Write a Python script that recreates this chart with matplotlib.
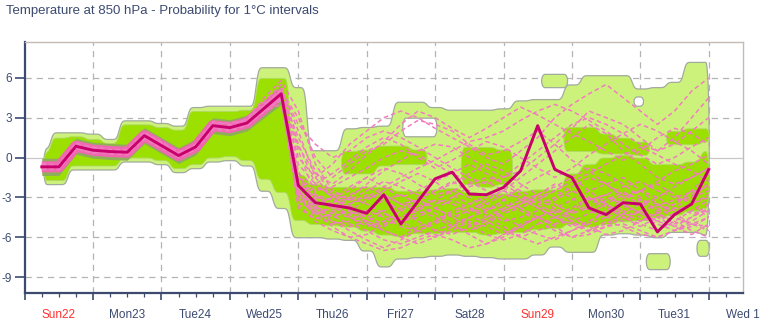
import numpy as np
import matplotlib
matplotlib.use("Agg")
import matplotlib.pyplot as plt

plt.rcParams['font.family'] = ['Liberation Sans', 'DejaVu Sans']

# 6-hourly steps, in days from Sun22 00 UTC
hours = np.arange(6, 241, 6)
days = hours / 24.0

day_labels = ['Sun22', 'Mon23', 'Tue24', 'Wed25', 'Thu26', 'Fri27',
              'Sat28', 'Sun29', 'Mon30', 'Tue31', 'Wed 1']
red_days = ['Sun22', 'Sun29']

# control forecast
control = [-0.7, -0.7, 0.85, 0.55, 0.45, 0.4, 1.65, 0.9, 0.15, 0.8,
           2.4, 2.25, 2.6, 3.7, 4.8, -2.1, -3.4, -3.6, -3.8, -4.2,
           -2.8, -5.0, -3.3, -1.6, -1.1, -2.75, -2.8, -2.25, -1.0, 2.4,
           -0.9, -1.5, -3.8, -4.3, -3.4, -3.5, -5.6, -4.3, -3.5, -0.9]

# outer probability area (light green)
outer_hi = [0.7, 1.9, 1.9, 1.8, 1.4, 2.8, 2.8, 2.6, 2.4, 3.8,
            3.9, 3.9, 3.9, 6.8, 6.8, 5.3, 0.55, 0.55, 2.2, 2.3,
            2.4, 4.2, 4.2, 3.8, 3.6, 3.6, 3.6, 3.7, 4.3, 4.4,
            4.4, 5.5, 6.2, 6.2, 6.2, 5.2, 5.3, 5.7, 7.2, 7.2]
outer_lo = [-2.0, -2.0, -0.9, -0.9, -0.9, -0.3, -0.3, -0.5, -1.1, -0.8,
            -0.3, -0.2, -0.6, -2.5, -3.8, -6.0, -6.0, -6.1, -6.2, -7.0,
            -8.2, -7.6, -7.5, -7.4, -7.3, -7.4, -7.5, -7.6, -7.6, -7.3,
            -6.7, -7.1, -7.1, -5.8, -5.7, -5.8, -6.0, -5.6, -5.6, -5.8]

# detached light green islands: (start day, end day, lo, hi)
islands = [(7.55, 7.93, 5.3, 6.3),
           (9.08, 9.43, -8.4, -7.2),
           (9.82, 10.0, -7.4, -6.2)]
# empty holes inside the light green area
holes = [(5.52, 6.02, 1.6, 3.0),
         (8.9, 9.04, 3.9, 4.6)]

nan = np.nan
# bright green (higher probability) main band
mid_hi = [0.4, 1.5, 1.6, 1.4, 1.1, 2.5, 2.5, 2.3, 2.1, 3.5,
          3.5, 3.5, 3.6, 6.0, 6.0, -1.3, -2.0, -2.2, -2.2, -2.2,
          -2.2, -2.5, -2.5, -2.4, -2.3, -2.6, -2.7, -2.7, -2.5, -2.4,
          -2.4, -1.2, -0.5, 0.0, 0.2, 0.0, -0.5, -0.5, -0.3, 0.5]
mid_lo = [-1.7, -1.7, -0.6, -0.6, -0.6, 0.0, 0.0, -0.2, -0.8, -0.5,
          0.0, 0.1, -0.2, -1.6, -2.6, -4.7, -5.0, -5.1, -5.2, -5.5,
          -5.8, -5.9, -5.7, -5.7, -5.6, -5.6, -5.8, -5.7, -5.6, -5.4,
          -5.3, -5.0, -5.2, -5.0, -4.8, -4.7, -4.5, -4.3, -4.0, -3.8]
# second bright green cluster
up_hi = [nan] * 18 + [0.5, 0.6, 0.9, 0.9, 0.6, nan, nan, 0.8, 0.8, 0.6,
                      nan, nan, nan, 2.3, 2.3, 1.8, 1.5, 1.2, nan, 2.0, 2.2, 2.2]
up_lo = [nan] * 18 + [-1.2, -1.2, -0.6, -0.5, -0.5, nan, nan, -2.0, -2.2, -2.0,
                      nan, nan, nan, 0.5, 0.5, 0.3, 0.3, 0.2, nan, 1.0, 1.0, 1.2]

# darker core of the first days
core_hi = [-0.05, -0.05, 1.45, 1.15, 1.05, 1.0, 2.25, 1.5, 0.75, 1.4, 3.0, 2.85, 3.2, 4.3, 5.4]
core_lo = [-1.35, -1.35, 0.25, -0.05, -0.15, -0.2, 1.05, 0.3, -0.45, 0.2, 1.8, 1.65, 2.0, 3.0, 4.0]

# some ensemble members
members = [
    [-0.9, -0.8, 0.6, 0.4, 0.3, 0.2, 1.4, 0.7, 0.0, 0.6, 2.1, 2.0, 2.4, 3.9, 5.2, 2.0, -1.5, -3.0, -4.0, -4.5,
     -5.0, -4.8, -4.2, -3.8, -4.5, -5.2, -4.8, -4.0, -3.5, -3.0, -2.5, -3.0, -4.0, -4.5, -4.8, -4.0, -3.6, -3.2, -3.0, -2.5],
    [-0.5, -0.6, 1.0, 0.8, 0.6, 0.6, 1.9, 1.1, 0.4, 1.0, 2.7, 2.5, 2.9, 4.5, 5.8, 3.5, -0.5, -2.5, -3.2, -3.0,
     -2.8, -3.5, -4.0, -4.5, -5.2, -5.5, -5.0, -4.2, -3.8, -4.5, -5.0, -4.8, -4.2, -3.5, -2.8, -2.5, -3.0, -3.8, -4.2, -4.0],
    [-0.8, -0.9, 0.7, 0.3, 0.5, 0.5, 1.5, 0.8, 0.3, 0.9, 2.2, 2.4, 2.5, 3.5, 4.0, -1.0, -3.8, -4.2, -4.5, -5.0,
     -5.5, -6.0, -5.2, -4.8, -4.0, -3.5, -3.0, -2.5, -1.5, -0.5, 0.5, 1.5, 2.5, 1.8, 0.5, -0.5, -1.5, -2.0, -1.5, -0.8],
    [-0.6, -0.5, 0.9, 0.7, 0.4, 0.3, 1.7, 1.0, 0.2, 0.7, 2.5, 2.2, 2.7, 3.8, 4.9, -2.5, -3.6, -3.4, -3.0, -2.0,
     -1.0, -0.2, 0.5, 1.0, 0.8, 0.0, -0.8, -1.5, -1.0, 0.0, 1.0, 2.2, 3.5, 3.0, 2.5, 1.5, 0.5, 1.0, 2.0, 3.0],
    [-0.7, -0.8, 0.8, 0.5, 0.4, 0.5, 1.6, 0.9, 0.1, 0.8, 2.3, 2.1, 2.5, 3.6, 4.6, -2.8, -4.5, -5.0, -4.8, -4.0,
     -3.2, -2.8, -3.5, -4.2, -5.0, -5.8, -6.5, -6.0, -5.2, -4.5, -4.0, -4.8, -5.5, -5.0, -4.2, -3.5, -3.8, -4.5, -5.0, -5.2],
    [-0.4, -0.6, 1.1, 0.7, 0.5, 0.4, 1.8, 1.2, 0.3, 0.9, 2.6, 2.6, 2.8, 4.2, 5.5, 1.0, -2.0, -3.0, -2.5, -1.5,
     -0.8, -1.2, -2.0, -2.8, -2.5, -2.0, -1.5, -1.8, -2.5, -3.2, -3.8, -3.2, -2.5, -2.0, -1.5, -2.5, -3.5, -4.0, -3.5, -2.8],
    [-0.9, -0.7, 0.7, 0.5, 0.3, 0.3, 1.5, 0.8, 0.2, 0.7, 2.3, 2.3, 2.5, 3.4, 4.4, -3.0, -4.0, -4.4, -5.0, -5.5,
     -6.2, -6.5, -6.0, -5.5, -5.0, -4.5, -4.0, -3.5, -4.0, -4.8, -5.5, -6.0, -5.5, -4.8, -5.2, -5.8, -6.0, -5.5, -4.8, -4.0],
    [-0.6, -0.7, 0.8, 0.6, 0.5, 0.4, 1.6, 0.9, 0.2, 0.8, 2.4, 2.2, 2.6, 3.8, 4.7, -1.8, -3.0, -3.2, -3.5, -3.0,
     -2.2, -1.5, -0.8, -0.2, 0.5, 1.2, 1.5, 2.0, 2.8, 3.5, 4.0, 3.5, 2.8, 2.0, 1.0, 0.2, -0.5, 0.0, 0.8, 1.5],
    [-0.8, -0.6, 0.9, 0.6, 0.4, 0.5, 1.7, 1.0, 0.1, 0.8, 2.4, 2.4, 2.6, 3.9, 5.0, 0.5, -2.8, -3.8, -4.2, -4.0,
     -4.5, -5.2, -5.5, -5.0, -4.2, -3.8, -4.5, -5.2, -6.0, -6.5, -6.0, -5.5, -5.0, -4.5, -4.0, -4.5, -5.0, -5.5, -5.2, -4.5],
    [-0.7, -0.7, 0.8, 0.5, 0.5, 0.3, 1.6, 0.9, 0.2, 0.8, 2.3, 2.3, 2.7, 3.6, 4.5, -2.2, -3.2, -3.8, -3.6, -4.5,
     -4.0, -3.8, -3.0, -2.5, -2.0, -1.2, -0.5, -1.0, -2.0, -2.8, -2.2, -1.5, -0.8, -1.2, -2.0, -3.0, -4.2, -5.0, -4.5, -3.8],
    [-0.6, -0.9, 0.7, 0.4, 0.4, 0.4, 1.5, 0.8, 0.2, 0.7, 2.2, 2.1, 2.4, 3.5, 4.3, -2.6, -3.8, -4.0, -4.3, -4.8,
     -5.2, -4.5, -3.8, -3.2, -3.5, -4.2, -3.5, -2.8, -3.0, -3.8, -4.5, -5.2, -4.8, -4.0, -3.2, -2.5, -2.0, -2.8, -3.5, -4.5],
    [-0.8, -0.8, 0.9, 0.6, 0.4, 0.4, 1.7, 0.9, 0.3, 0.9, 2.5, 2.3, 2.6, 4.0, 5.0, 3.0, 0.0, -1.5, -0.5, 0.5,
     1.0, 2.0, 2.8, 2.5, 2.0, 1.0, 0.2, 0.5, 1.2, 2.0, 1.0, -0.2, -1.0, -2.0, -3.0, -2.5, -1.8, -1.0, -0.5, 0.2],
    [-0.7, -0.6, 0.8, 0.6, 0.5, 0.4, 1.6, 1.0, 0.2, 0.8, 2.4, 2.3, 2.6, 3.7, 4.6, -3.5, -4.8, -5.5, -6.0, -5.8,
     -5.0, -4.5, -4.0, -3.2, -2.5, -3.0, -3.8, -4.5, -5.2, -5.8, -6.2, -5.5, -4.8, -4.2, -3.8, -3.2, -3.5, -4.2, -5.0, -5.5],
    [-0.8, -0.7, 0.8, 0.5, 0.4, 0.4, 1.6, 0.9, 0.2, 0.8, 2.3, 2.2, 2.5, 3.6, 4.7, -1.5, -2.5, -2.2, -1.5, -0.8,
     0.0, 0.5, 0.2, -0.5, -1.2, -1.8, -2.5, -3.2, -3.8, -3.2, -2.5, -1.8, -1.2, -0.5, 0.2, 0.8, 0.2, -0.5, -1.0, -1.8],
    [-0.6, -0.8, 0.9, 0.6, 0.4, 0.5, 1.7, 0.9, 0.2, 0.9, 2.4, 2.3, 2.6, 3.8, 4.9, 1.5, -1.0, -2.8, -4.0, -4.8,
     -5.5, -6.0, -6.5, -6.0, -5.2, -4.5, -4.8, -5.5, -6.0, -5.5, -5.0, -4.2, -3.5, -3.0, -3.5, -4.2, -4.8, -4.2, -3.5, -3.0],
    [-0.7, -0.8, 0.8, 0.5, 0.5, 0.4, 1.6, 0.8, 0.1, 0.8, 2.3, 2.2, 2.6, 3.7, 4.8, -2.0, -3.0, -3.5, -4.5, -5.2,
     -4.8, -4.0, -3.2, -3.8, -4.5, -4.0, -3.2, -2.5, -2.8, -3.5, -4.2, -3.8, -3.0, -3.5, -4.5, -5.2, -4.5, -3.8, -3.0, -2.0],
    [-0.8, -0.6, 0.9, 0.6, 0.5, 0.5, 1.7, 1.0, 0.2, 0.8, 2.5, 2.3, 2.7, 3.9, 5.1, 2.5, 1.0, 0.0, 0.5, 1.5,
     2.0, 1.5, 0.8, 0.0, -0.8, -1.5, -2.0, -1.5, -0.5, 0.5, 1.5, 2.5, 3.0, 2.5, 1.8, 1.0, 0.5, 1.5, 3.0, 4.5],
    [-0.7, -0.7, 0.7, 0.5, 0.4, 0.3, 1.5, 0.8, 0.1, 0.7, 2.3, 2.2, 2.5, 3.5, 4.5, -2.4, -3.6, -4.8, -5.5, -6.2,
     -6.8, -6.2, -5.5, -4.8, -4.2, -5.0, -5.8, -6.2, -5.8, -5.0, -4.5, -5.0, -5.6, -5.2, -4.5, -4.0, -4.5, -5.2, -5.8, -5.0],
    [-0.6, -0.7, 0.9, 0.5, 0.4, 0.4, 1.6, 0.9, 0.2, 0.8, 2.4, 2.3, 2.6, 3.7, 4.8, -1.2, -2.2, -2.8, -3.2, -2.5,
     -1.8, -2.2, -2.8, -3.5, -3.0, -2.2, -1.8, -2.5, -3.2, -2.8, -2.0, -2.5, -3.2, -2.8, -2.2, -1.8, -2.5, -3.0, -2.6, -2.2],
    [-0.8, -0.8, 0.8, 0.6, 0.4, 0.4, 1.7, 0.9, 0.2, 0.8, 2.4, 2.2, 2.5, 3.7, 4.6, -3.2, -4.2, -3.8, -3.0, -3.5,
     -4.2, -4.8, -4.5, -3.8, -3.2, -3.8, -4.2, -4.8, -4.5, -4.0, -3.2, -2.5, -3.0, -3.8, -4.5, -5.0, -5.5, -4.8, -4.0, -3.2],
    [-0.7, -0.7, 0.8, 0.5, 0.4, 0.4, 1.6, 0.9, 0.1, 0.8, 2.4, 2.3, 2.6, 3.7, 4.7, 0.0, -1.5, -0.5, 1.0, 2.0,
     3.0, 3.5, 3.0, 2.2, 1.5, 0.8, 0.0, -0.5, 0.5, 1.5, 3.0, 4.0, 4.8, 5.5, 4.5, 3.5, 2.5, 3.5, 5.0, 6.0],
    [-0.7, -0.8, 0.8, 0.5, 0.4, 0.4, 1.6, 0.9, 0.2, 0.8, 2.4, 2.2, 2.6, 3.6, 4.4, -3.8, -4.6, -4.2, -3.5, -2.8,
     -3.2, -4.0, -4.8, -5.5, -5.8, -5.2, -4.5, -3.8, -3.2, -3.8, -4.5, -4.0, -3.2, -2.8, -3.5, -4.2, -4.8, -5.2, -4.5, -3.5],
    [-0.6, -0.7, 0.9, 0.6, 0.5, 0.5, 1.7, 1.0, 0.2, 0.9, 2.5, 2.3, 2.7, 3.9, 5.0, -0.5, -2.0, -1.2, -0.2, 0.8,
     1.5, 1.0, 0.0, -0.8, -0.2, 0.5, 1.2, 0.8, 0.0, -0.8, -1.5, -0.8, 0.2, 1.0, 1.8, 2.5, 2.0, 1.2, 0.5, -0.5],
    [-0.8, -0.7, 0.7, 0.5, 0.4, 0.3, 1.5, 0.8, 0.1, 0.7, 2.3, 2.2, 2.5, 3.5, 4.5, -2.6, -4.0, -5.2, -6.0, -6.5,
     -7.0, -6.8, -6.2, -5.8, -6.2, -6.8, -6.5, -5.8, -5.0, -4.5, -5.2, -6.0, -5.8, -5.2, -5.0, -5.5, -6.0, -5.5, -5.0, -4.5],
    [-0.7, -0.6, 0.8, 0.6, 0.5, 0.4, 1.6, 0.9, 0.2, 0.8, 2.4, 2.3, 2.6, 3.8, 4.8, -1.6, -2.8, -3.2, -2.8, -2.2,
     -2.8, -3.5, -3.2, -2.5, -1.8, -2.5, -3.5, -4.0, -3.5, -2.8, -3.5, -4.2, -3.8, -3.2, -2.6, -3.2, -4.0, -3.5, -2.8, -2.0],
    [-0.6, -0.8, 0.8, 0.5, 0.4, 0.4, 1.6, 0.9, 0.2, 0.8, 2.4, 2.2, 2.6, 3.7, 4.7, -2.8, -3.8, -4.5, -4.0, -3.2,
     -2.5, -1.8, -1.2, -1.8, -2.8, -3.5, -4.0, -3.2, -2.2, -1.5, -0.8, -1.5, -2.5, -3.5, -4.2, -4.8, -4.2, -3.5, -2.5, -1.2],
    [-0.8, -0.7, 0.9, 0.6, 0.5, 0.4, 1.7, 0.9, 0.2, 0.8, 2.5, 2.3, 2.7, 3.8, 4.9, 0.8, -1.2, -2.0, -1.0, 0.2,
     1.2, 2.5, 3.5, 3.0, 2.2, 1.5, 2.2, 3.0, 3.8, 3.2, 2.5, 1.8, 1.2, 0.5, -0.2, 0.5, 1.5, 2.2, 1.8, 1.0],
    [-0.7, -0.7, 0.8, 0.5, 0.4, 0.4, 1.6, 0.9, 0.2, 0.8, 2.4, 2.3, 2.6, 3.7, 4.6, -3.0, -4.2, -4.8, -5.2, -4.8,
     -4.2, -4.8, -5.5, -6.0, -5.5, -4.8, -5.2, -5.8, -5.2, -4.5, -3.8, -4.5, -5.2, -5.8, -5.5, -4.8, -4.2, -4.8, -5.5, -6.0],
    [-0.7, -0.8, 0.8, 0.5, 0.5, 0.4, 1.6, 0.9, 0.2, 0.8, 2.3, 2.3, 2.6, 3.6, 4.6, -2.0, -3.5, -3.0, -2.2, -1.5,
     -2.2, -3.0, -2.5, -1.8, -1.2, -0.5, -1.2, -2.0, -2.8, -3.5, -3.0, -2.2, -1.5, -2.0, -2.8, -3.5, -3.0, -2.2, -1.5, -0.8],
]

light = '#cdf27c'
bright = '#9be000'
core = '#8fae5a'
outline = '#a2aa9c'
navy = '#3c4a70'
pink = '#f27cc0'

fig = plt.figure(figsize=(7.66, 3.24), dpi=100)
ax = fig.add_axes([0.0322, 0.0957, 0.9377, 0.7747])


def draw_run(x0, x1, xs, lo, hi, face, edge, lw, z, sigma=0.03, cap=0.05):
    # step shape held over each 6h slot, softened so the corners are round
    xf = np.linspace(x0, x1, int((x1 - x0) / 0.004) + 2)
    idx = np.abs(xf[:, None] - np.asarray(xs)[None, :]).argmin(axis=1)
    lf = np.asarray(lo, float)[idx]
    hf = np.asarray(hi, float)[idx]
    dx = xf[1] - xf[0]
    m = max(1, int(3 * sigma / dx))
    k = np.arange(-m, m + 1) * dx
    w = np.exp(-0.5 * (k / sigma) ** 2)
    w /= w.sum()
    lf = np.convolve(np.pad(lf, m, mode='edge'), w, mode='valid')
    hf = np.convolve(np.pad(hf, m, mode='edge'), w, mode='valid')
    d = np.minimum(xf - x0, x1 - xf)
    f = np.sqrt(np.clip(1 - (1 - np.minimum(d / cap, 1)) ** 2, 0, 1))
    c = (lf + hf) / 2
    r = (hf - lf) / 2 * f
    ax.fill_between(xf, c - r, c + r, facecolor=face, edgecolor=edge,
                    linewidth=lw, zorder=z)


def blob(x, lo, hi, face, edge, lw, z):
    x = np.asarray(x, float)
    lo = np.asarray(lo, float)
    hi = np.asarray(hi, float)
    ok = ~np.isnan(lo)
    i, n = 0, len(x)
    while i < n:
        if not ok[i]:
            i += 1
            continue
        j = i
        while j < n and ok[j]:
            j += 1
        x0 = max(x[i] - 0.125, 0.27)
        x1 = min(x[j - 1] + 0.125, 10.0)
        draw_run(x0, x1, x[i:j], lo[i:j], hi[i:j], face, edge, lw, z)
        i = j


blob(days, outer_lo, outer_hi, light, outline, 0.9, 2)
for d0, d1, lo, hi in islands:
    draw_run(d0, d1, [(d0 + d1) / 2], [lo], [hi], light, outline, 0.9, 2)
for d0, d1, lo, hi in holes:
    draw_run(d0, d1, [(d0 + d1) / 2], [lo], [hi], 'white', outline, 0.9, 2.5)
blob(days, mid_lo, mid_hi, bright, '#b2d86a', 0.6, 3)
blob(days, up_lo, up_hi, bright, '#b2d86a', 0.6, 3)
ax.fill_between(days[:15], core_lo, core_hi, color=core, lw=0, zorder=4)

# dense cluster of members around the control in the first days
ax.plot(days[:15], control[:15], color='#f068b0', lw=8.0, zorder=4.5,
        solid_joinstyle='round', solid_capstyle='butt')

for mem in members:
    ax.plot(days, mem, color=pink, lw=1.1, ls=(0, (3, 2)), zorder=5)

ax.plot(days, control, color='#c8006c', lw=2.1, zorder=6)

ax.set_xlim(0, 10.5)
ax.set_ylim(-10.2, 8.7)

# grid
for d in range(1, 11):
    ax.axvline(d, color='#b4b4b4', lw=0.9, ls=(0, (5, 4)), zorder=1)
for v in [-9, -6, -3, 3, 6]:
    ax.axhline(v, color='#b4b4b4', lw=0.9, ls=(0, (5, 4)), zorder=1)
ax.axhline(0, color='#c8c8c8', lw=0.9, zorder=1)

ax.set_yticks([-9, -6, -3, 0, 3, 6])
ax.set_yticklabels(['-9', '-6', '-3', '0', '3', '6'])
ax.tick_params(axis='y', length=7, width=1.2, color=navy, labelcolor=navy,
               labelsize=8.5, pad=2)

ax.set_xticks(range(0, 11))
ax.set_xticklabels([])
ax.set_xticks(np.arange(0, 10.5, 0.25), minor=True)
ax.tick_params(axis='x', which='major', length=5, width=1.2, color=navy)
ax.tick_params(axis='x', which='minor', length=3, width=0.9, color=navy)
for i, lab in enumerate(day_labels):
    ax.text(i + 0.5, -0.062, lab, transform=ax.get_xaxis_transform(),
            ha='center', va='top', fontsize=8.5,
            color='#ff3030' if lab in red_days else navy)

for s in ['left', 'bottom']:
    ax.spines[s].set_color(navy)
    ax.spines[s].set_linewidth(1.6)
for s in ['top', 'right']:
    ax.spines[s].set_color('#c4bcb4')
    ax.spines[s].set_linewidth(1.0)

fig.text(0.008, 0.965, 'Temperature at 850 hPa - Probability for 1\u00b0C intervals',
         ha='left', va='center', fontsize=9.5, color=navy)

fig.savefig('out.png', dpi=100)
